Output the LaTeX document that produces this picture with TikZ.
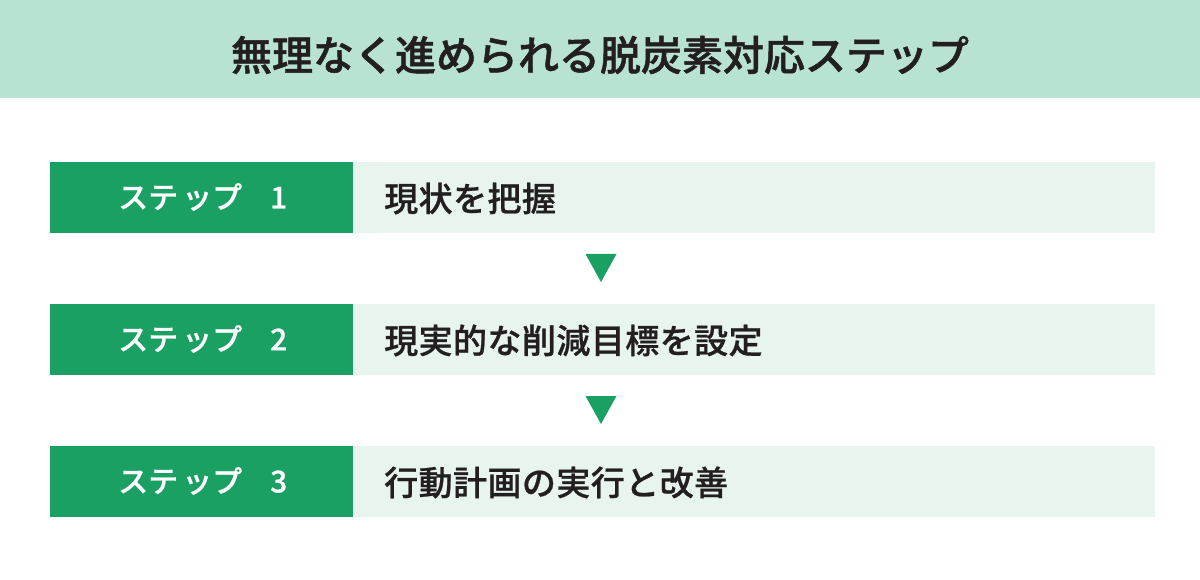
\documentclass[tikz,border=0pt]{standalone}
\usepackage{fontspec}
\setmainfont{Noto Sans CJK JP}
\newfontfamily\jpmed{Noto Sans CJK JP Medium}[FakeBold=0.7]
\begin{document}
\begin{tikzpicture}[x=1pt,y=-1pt,
  band/.style={fill=bandcol,draw=none},
  stepbox/.style={fill=stepgreen,draw=none,minimum width=303pt,minimum height=71pt,inner sep=0pt,outer sep=0pt,anchor=north west},
  descbox/.style={fill=desclight,draw=none,minimum width=802pt,minimum height=71pt,inner sep=0pt,outer sep=0pt,anchor=north west},
  steplabel/.style={text=white,font=\jpmed\fontsize{30}{30}\selectfont,anchor=west,inner sep=0pt},
  desclabel/.style={text=textdark,font=\jpmed\fontsize{34}{34}\selectfont\addfontfeature{LetterSpace=1.3},anchor=west,inner sep=0pt},
  tri/.style={fill=stepgreen,draw=none}
]
\definecolor{bandcol}{HTML}{B8E2D2}
\definecolor{stepgreen}{HTML}{1BA064}
\definecolor{desclight}{HTML}{E8F5EF}
\definecolor{textdark}{HTML}{231F20}
\useasboundingbox (0,0) rectangle (1200,580);
\fill[white] (0,0) rectangle (1200,580);
\fill[band] (0,0) rectangle (1200,98);
\node[text=textdark,font=\jpmed\fontsize{41}{41}\selectfont\addfontfeature{FakeBold=1.2},inner sep=0pt] (title) at (600,55) {無理なく進められる脱炭素対応ステップ};

\node[stepbox] (s1) at (50,162) {};
\node[descbox] (d1) at (353,162) {};
\node[steplabel] (l1) at (118,197) {ステ\hspace{4pt}ップ\hspace{28pt}1};
\node[desclabel] (t1) at (384,198.5) {現状を把握};

\node[stepbox] (s2) at (50,304) {};
\node[descbox] (d2) at (353,304) {};
\node[steplabel] (l2) at (118,339) {ステ\hspace{4pt}ップ\hspace{28pt}2};
\node[desclabel] (t2) at (384,340.5) {現実的な削減目標を設定};

\node[stepbox] (s3) at (50,446) {};
\node[descbox] (d3) at (353,446) {};
\node[steplabel] (l3) at (118,481) {ステ\hspace{4pt}ップ\hspace{28pt}3};
\node[desclabel] (t3) at (384,482.5) {行動計画の実行と改善};

\coordinate (a1) at (601,254);
\fill[tri] (a1) ++(-15.5,0) -- ++(31,0) -- ++(-15.5,28) -- cycle;
\coordinate (a2) at (601,396);
\fill[tri] (a2) ++(-15.5,0) -- ++(31,0) -- ++(-15.5,28) -- cycle;
\end{tikzpicture}
\end{document}
